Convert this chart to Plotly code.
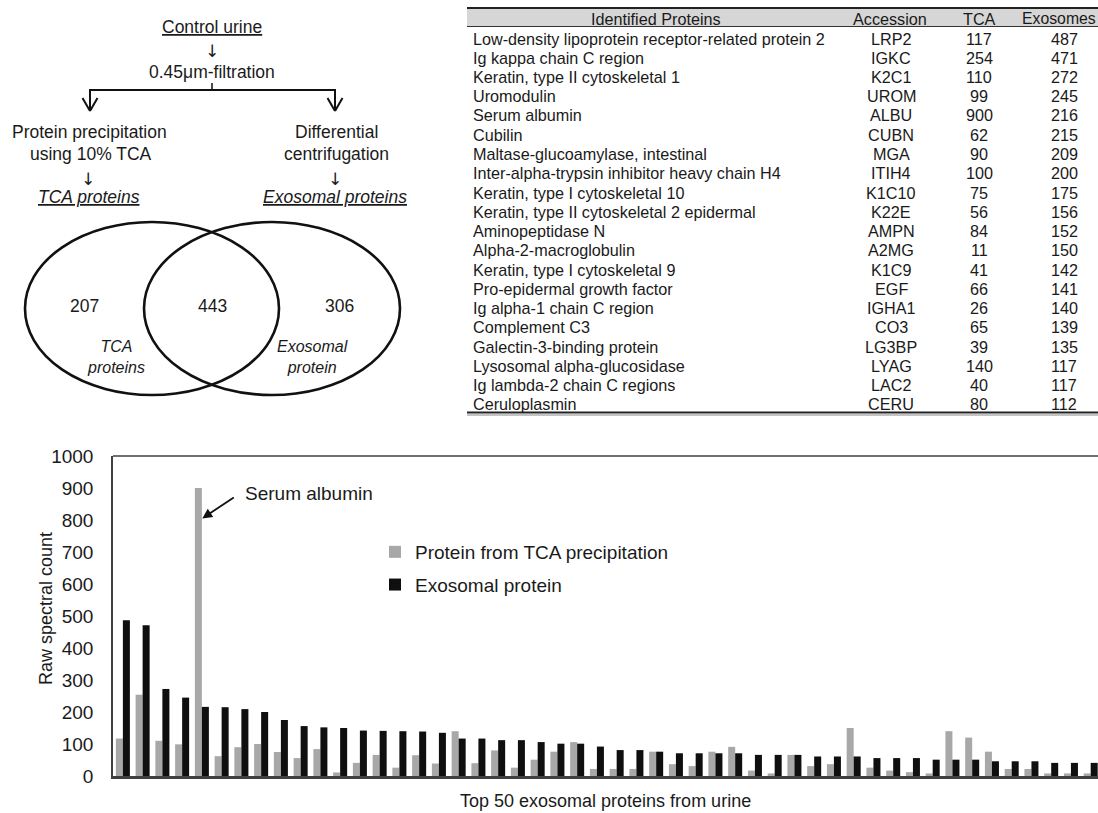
import plotly.graph_objects as go

W, H = 1098, 813

# ---------------- data ----------------
venn_counts = {"tca_only": 207, "both": 443, "exo_only": 306}

table_header = ["Identified Proteins", "Accession", "TCA", "Exosomes"]
table_names = [
    "Low-density lipoprotein receptor-related protein 2",
    "Ig kappa chain C region",
    "Keratin, type II cytoskeletal 1",
    "Uromodulin",
    "Serum albumin",
    "Cubilin",
    "Maltase-glucoamylase, intestinal",
    "Inter-alpha-trypsin inhibitor heavy chain H4",
    "Keratin, type I cytoskeletal 10",
    "Keratin, type II cytoskeletal 2 epidermal",
    "Aminopeptidase N",
    "Alpha-2-macroglobulin",
    "Keratin, type I cytoskeletal 9",
    "Pro-epidermal growth factor",
    "Ig alpha-1 chain C region",
    "Complement C3",
    "Galectin-3-binding protein",
    "Lysosomal alpha-glucosidase",
    "Ig lambda-2 chain C regions",
    "Ceruloplasmin",
]
table_acc = ["LRP2", "IGKC", "K2C1", "UROM", "ALBU", "CUBN", "MGA", "ITIH4", "K1C10", "K22E",
             "AMPN", "A2MG", "K1C9", "EGF", "IGHA1", "CO3", "LG3BP", "LYAG", "LAC2", "CERU"]
table_tca = [117, 254, 110, 99, 900, 62, 90, 100, 75, 56, 84, 11, 41, 66, 26, 65, 39, 140, 40, 80]
table_exo = [487, 471, 272, 245, 216, 215, 209, 200, 175, 156, 152, 150, 142, 141, 140, 139, 135, 117, 117, 112]

# Top 50 exosomal proteins (rank order); first 20 from the table, rest
ranks = list(range(1, 51))
tca_counts = [117, 254, 110, 99, 900, 62, 90, 100, 75, 56, 84, 11, 41, 66, 26, 65, 39, 140, 40, 80,
              26, 51, 76, 106, 22, 22, 22, 76, 37, 31, 76, 91, 17, 8, 66, 31, 37, 150, 26, 17,
              12, 8, 140, 120, 76, 22, 22, 8, 8, 8]
exo_counts = [487, 471, 272, 245, 216, 215, 209, 200, 175, 156, 152, 150, 142, 141, 140, 139, 135, 117, 117, 112,
              112, 106, 101, 101, 92, 81, 81, 76, 71, 71, 71, 71, 66, 66, 66, 61, 61, 61, 56, 56,
              56, 51, 51, 51, 46, 46, 46, 41, 41, 41]

FONT = "Arial, Liberation Sans, Helvetica, sans-serif"
INK = "#1a1a1a"


def X(px):
    return px / W


def Y(py):
    return 1 - py / H


fig = go.Figure()

fig.add_trace(go.Bar(x=ranks, y=tca_counts, name="Protein from TCA precipitation",
                     marker=dict(color="#a8a8a8", line=dict(width=0)), legendgroup="a"))
fig.add_trace(go.Bar(x=ranks, y=exo_counts, name="Exosomal protein",
                     marker=dict(color="#0f0f0f", line=dict(width=0)), legendgroup="b"))

shapes = []
annotations = []


def txt(s, x, y, size=17.5, xanchor="center", italic=False, family=FONT):
    if italic:
        s = "<i>" + s + "</i>"
    annotations.append(dict(text=s, x=X(x), y=Y(y), xref="paper", yref="paper",
                            xanchor=xanchor, yanchor="middle", showarrow=False,
                            font=dict(family=family, size=size, color=INK)))


# ---------------- flowchart ----------------
ARROWFONT = "DejaVu Sans, Liberation Sans, sans-serif"
txt("<u>Control urine</u>", 212, 27)
txt("↓", 212, 51, size=17, family=ARROWFONT)
txt("0.45μm-filtration", 212, 72)
txt("Protein precipitation", 89, 132)
txt("using 10% TCA", 91, 154)
txt("↓", 88, 179, size=17, family=ARROWFONT)
txt("<u>TCA proteins</u>", 89, 197, italic=True)
txt("Differential", 336, 132)
txt("centrifugation", 336, 154)
txt("↓", 335, 179, size=17, family=ARROWFONT)
txt("<u>Exosomal proteins</u>", 335, 197, italic=True)

line_style = dict(color="#111111", width=2)
shapes.append(dict(type="line", xref="paper", yref="paper", x0=X(212), x1=X(212), y0=Y(83), y1=Y(90),
                   line=dict(color="#111111", width=1.5)))
shapes.append(dict(type="line", xref="paper", yref="paper", x0=X(89), x1=X(336), y0=Y(90), y1=Y(90), line=line_style))
for cx in (90, 335):
    shapes.append(dict(type="line", xref="paper", yref="paper", x0=X(cx), x1=X(cx), y0=Y(90), y1=Y(111), line=line_style))
    shapes.append(dict(type="line", xref="paper", yref="paper", x0=X(cx - 7.5), x1=X(cx), y0=Y(98), y1=Y(111), line=line_style))
    shapes.append(dict(type="line", xref="paper", yref="paper", x0=X(cx + 7.5), x1=X(cx), y0=Y(98), y1=Y(111), line=line_style))

# ---------------- Venn ----------------
shapes.append(dict(type="circle", xref="paper", yref="paper", x0=X(25), x1=X(279), y0=Y(395), y1=Y(222),
                   line=dict(color="#111111", width=2.6)))
shapes.append(dict(type="circle", xref="paper", yref="paper", x0=X(144), x1=X(400), y0=Y(395), y1=Y(222),
                   line=dict(color="#111111", width=2.6)))
txt(str(venn_counts["tca_only"]), 84, 306)
txt(str(venn_counts["both"]), 212, 306)
txt(str(venn_counts["exo_only"]), 340, 306)
txt("TCA<br>proteins", 147, 357, size=16, xanchor="right", italic=True)
txt("Exosomal<br>protein", 275, 357, size=16, xanchor="left", italic=True)

# ---------------- table ----------------
T_LEFT, T_RIGHT = 467, 1098
shapes.append(dict(type="rect", xref="paper", yref="paper", x0=X(T_LEFT), x1=X(T_RIGHT), y0=Y(26.5), y1=Y(9),
                   fillcolor="#d6d6d6", line=dict(width=0), layer="above"))
shapes.append(dict(type="line", xref="paper", yref="paper", x0=X(T_LEFT), x1=X(T_RIGHT), y0=Y(8), y1=Y(8),
                   line=dict(color="#222222", width=2)))
shapes.append(dict(type="line", xref="paper", yref="paper", x0=X(T_LEFT), x1=X(T_RIGHT), y0=Y(26.5), y1=Y(26.5),
                   line=dict(color="#333333", width=1.2)))
shapes.append(dict(type="line", xref="paper", yref="paper", x0=X(T_LEFT), x1=X(T_RIGHT), y0=Y(412.5), y1=Y(412.5),
                   line=dict(color="#222222", width=2)))
shapes.append(dict(type="line", xref="paper", yref="paper", x0=X(T_LEFT), x1=X(T_RIGHT), y0=Y(415), y1=Y(415),
                   line=dict(color="#888888", width=1.2)))

TFS = 16.2
header_x = [656, 890, 979, 1059]
header_size = [TFS, TFS, TFS, 15.8]
for j, h in enumerate(table_header):
    txt(h, header_x[j], 18.5, size=header_size[j])

ROW0, ROWH = 38.5, 19.25
for i in range(len(table_names)):
    yy = ROW0 + i * ROWH
    txt(table_names[i], 471, yy, size=TFS, xanchor="left")
    txt(table_acc[i], 891, yy, size=TFS)
    txt(str(table_tca[i]), 979, yy, size=TFS)
    txt(str(table_exo[i]), 1064, yy, size=TFS)

# ---------------- bar chart extras ----------------
PL, PT, PB = 113, 456, 776
shapes.append(dict(type="line", xref="paper", yref="paper", x0=X(PL), x1=1.0, y0=Y(PT), y1=Y(PT),
                   line=dict(color="#404040", width=1.5)))

annotations.append(dict(text="Serum albumin", x=X(243), y=Y(493), xref="paper", yref="paper",
                        xanchor="left", yanchor="middle", showarrow=False,
                        font=dict(family=FONT, size=19, color=INK)))
annotations.append(dict(text="", x=5.02, y=805, xref="x", yref="y", ax=33, ay=-22,
                        showarrow=True, arrowhead=2, arrowsize=1.1, arrowwidth=1.8, arrowcolor="#111111",
                        standoff=0, startstandoff=0, font=dict(size=1)))

annotations.append(dict(text="Raw spectral count", x=X(46), y=Y(609), xref="paper", yref="paper",
                        textangle=-90, showarrow=False, xanchor="center", yanchor="middle",
                        font=dict(family=FONT, size=18, color=INK)))
annotations.append(dict(text="Top 50 exosomal proteins from urine", x=X(606), y=Y(801), xref="paper", yref="paper",
                        showarrow=False, xanchor="center", yanchor="middle",
                        font=dict(family=FONT, size=18, color=INK)))

fig.update_layout(
    width=W, height=H,
    margin=dict(l=0, r=0, t=0, b=0, pad=0),
    paper_bgcolor="white", plot_bgcolor="white",
    barmode="group", bargap=0.29, bargroupgap=0,
    font=dict(family=FONT, color=INK),
    showlegend=True,
    legend=dict(x=X(375), y=Y(533), xanchor="left", yanchor="top",
                font=dict(family=FONT, size=19, color=INK), itemwidth=30,
                bgcolor="rgba(0,0,0,0)", tracegroupgap=5, traceorder="grouped"),
    xaxis=dict(domain=[X(PL), 1.0], range=[0.5, 50.37], showticklabels=False, ticks="",
               showgrid=False, zeroline=False, showline=True, linecolor="#404040", linewidth=2.5,
               automargin=False, fixedrange=True),
    yaxis=dict(domain=[Y(PB), Y(PT)], range=[0, 1000], dtick=100, ticks="", showgrid=False,
               zeroline=False, showline=True, linecolor="#404040", linewidth=1.5,
               tickfont=dict(family=FONT, size=19, color=INK), ticklabelstandoff=14,
               automargin=False, fixedrange=True),
    shapes=shapes,
    annotations=annotations,
)

fig.write_html("out.html",
               config={"displayModeBar": False},
               post_script="document.body.style.margin='0px';"
                           "document.documentElement.style.overflow='hidden';")
